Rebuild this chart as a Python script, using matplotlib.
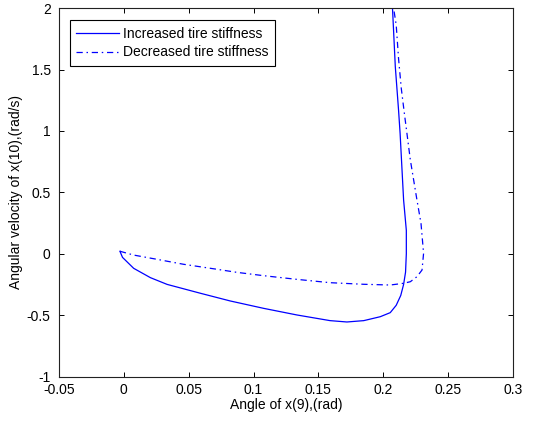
import matplotlib
matplotlib.use("Agg")
import matplotlib.pyplot as plt

plt.rcParams['font.family'] = ['Liberation Sans', 'DejaVu Sans']

# Increased tire stiffness (solid)
inc_x = [-0.003, -0.001, 0.0076, 0.0205, 0.0334, 0.059, 0.0821, 0.1078, 0.1335, 0.159,
         0.172, 0.185, 0.1977, 0.2054, 0.21, 0.2135, 0.2157, 0.2172, 0.2178, 0.2178,
         0.2157, 0.213, 0.2118, 0.2093, 0.2072, 0.2065]
inc_y = [0.02, -0.03, -0.119, -0.195, -0.25, -0.322, -0.385, -0.445, -0.499, -0.545,
         -0.556, -0.545, -0.513, -0.48, -0.42, -0.34, -0.25, -0.15, 0.0, 0.19,
         0.437, 0.98, 1.17, 1.523, 1.985, 2.1]

# Decreased tire stiffness (dash-dot)
dec_x = [-0.003, 0.0076, 0.0257, 0.046, 0.0719, 0.0873, 0.1078, 0.1335, 0.159, 0.185,
         0.2054, 0.2157, 0.2209, 0.226, 0.2299, 0.2311, 0.2291, 0.226, 0.2209, 0.2162,
         0.2139, 0.2118, 0.21, 0.208, 0.207]
dec_y = [0.02, -0.011, -0.046, -0.086, -0.127, -0.152, -0.179, -0.209, -0.236, -0.249,
         -0.255, -0.241, -0.228, -0.187, -0.133, 0.003, 0.248, 0.437, 0.763, 1.15,
         1.347, 1.59, 1.862, 2.0, 2.1]

xticks = [-0.05, 0, 0.05, 0.1, 0.15, 0.2, 0.25, 0.3]
xticklabels = ['-0.05', '0', '0.05', '0.1', '0.15', '0.2', '0.25', '0.3']
yticks = [-1, -0.5, 0, 0.5, 1, 1.5, 2]
yticklabels = ['-1', '-0.5', '0', '0.5', '1', '1.5', '2']

fig = plt.figure(figsize=(5.36, 4.21), dpi=100)
ax = fig.add_axes([0.110, 0.1057, 0.847, 0.875])

ax.plot(inc_x, inc_y, color='#0000ff', lw=0.9, label='Increased tire stiffness')
ax.plot(dec_x, dec_y, color='#0000ff', lw=0.9, linestyle=(0, (5, 3, 1.2, 3)),
        label='Decreased tire stiffness')

ax.set_xlim(-0.05, 0.3)
ax.set_ylim(-1, 2)
ax.set_xticks(xticks)
ax.set_xticklabels(xticklabels)
ax.set_yticks(yticks)
ax.set_yticklabels(yticklabels)
ax.tick_params(direction='in', top=True, right=True, length=3.5, width=0.7,
               labelsize=10, colors='black')
ax.tick_params(axis='x', pad=5)
ax.tick_params(axis='y', pad=6)
for s in ax.spines.values():
    s.set_linewidth(0.8)
    s.set_color('#222222')

ax.set_xlabel('Angle of x(9),(rad)', fontsize=10, labelpad=0.5)
ax.set_ylabel('Angular velocity of x(10),(rad/s)', fontsize=10, labelpad=3)

leg = ax.legend(loc='upper left', bbox_to_anchor=(0.024, 0.967), borderaxespad=0,
                fontsize=10, handlelength=3.1, handletextpad=0.3, labelspacing=0.35,
                borderpad=0.45, fancybox=False, framealpha=1, edgecolor='black')
leg.get_frame().set_linewidth(0.8)

fig.savefig('out.png', dpi=100)
